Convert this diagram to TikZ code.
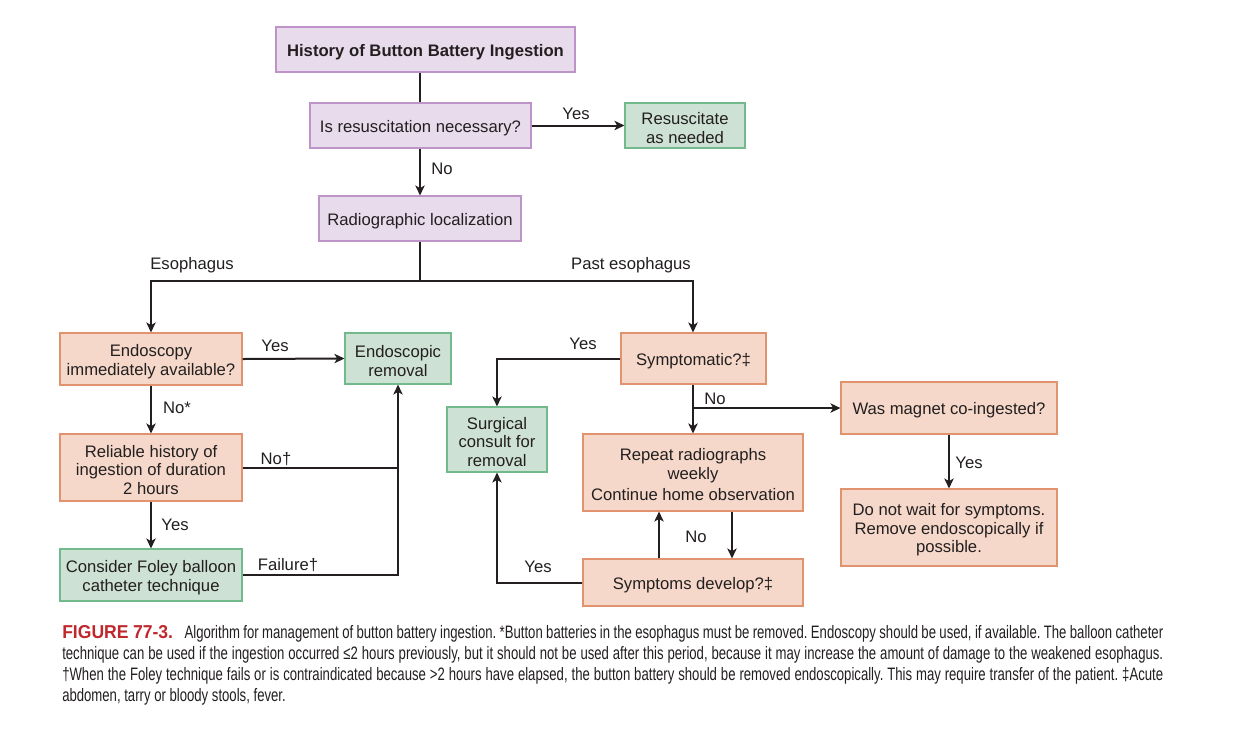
\documentclass[tikz,border=0pt]{standalone}
\usepackage{fontspec}
\setmainfont{Liberation Sans}
\newfontfamily\capfont[FakeStretch=0.73]{Liberation Sans}
\newfontfamily\figfont[FakeStretch=0.94]{Liberation Sans}
\usetikzlibrary{arrows.meta,calc}
\definecolor{ink}{HTML}{231F20}
\definecolor{pfill}{HTML}{E8DBEC}
\definecolor{pline}{HTML}{BE94C8}
\definecolor{ofill}{HTML}{F5D8C9}
\definecolor{oline}{HTML}{E0936E}
\definecolor{gfill}{HTML}{CDE1D4}
\definecolor{gline}{HTML}{72BA8C}
\definecolor{capred}{HTML}{C0272D}
\begin{document}
\begin{tikzpicture}[x=0.75pt,y=-0.75pt,
  box/.style={draw, line width=0.8pt, inner sep=0pt},
  boxtext/.style={align=center, inner sep=0pt, text=ink, yshift=-1.8pt,
    font=\fontsize{12.5}{14}\selectfont},
  txt/.style={label={[boxtext]center:{#1}}},
  pbox/.style={box, fill=pfill, draw=pline},
  obox/.style={box, fill=ofill, draw=oline},
  gbox/.style={box, fill=gfill, draw=gline},
  arr/.style={line width=1.5pt, draw=ink, -{Stealth[length=7.5pt,width=7pt,inset=2pt]}},
  ln/.style={line width=1.5pt, draw=ink},
  lbl/.style={font=\fontsize{12.5}{14}\selectfont, text=ink, inner sep=0pt, yshift=-1.2pt}]
\useasboundingbox (0,0) rectangle (1235,751);
\fill[white] (0,0) rectangle (1235,751);

% boxes
\node[pbox, minimum width=224.25pt, minimum height=33.75pt, txt={\bfseries History of Button Battery Ingestion}] (hist) at (425.5,49.5) {};
\node[pbox, minimum width=165.75pt, minimum height=33.75pt, txt={Is resuscitation necessary?}] (resq) at (420.5,125.5) {};
\node[gbox, minimum width=90pt, minimum height=33.75pt, txt={Resuscitate\\as needed}] (resc) at (685,125.5) {};
\node[pbox, minimum width=151.5pt, minimum height=33.75pt, txt={Radiographic localization}] (radio) at (420,218.5) {};
\node[obox, minimum width=136.5pt, minimum height=39pt, txt={Endoscopy\\immediately available?}] (endo) at (151,359) {};
\node[gbox, minimum width=79.5pt, minimum height=38.25pt, txt={Endoscopic\\removal}] (endorem) at (398,358.5) {};
\node[obox, minimum width=136.5pt, minimum height=50.25pt, txt={Reliable history of\\ingestion of duration\\2 hours}] (rel) at (151,467.5) {};
\node[gbox, minimum width=136.5pt, minimum height=39pt, txt={Consider Foley balloon\\catheter technique}] (foley) at (151,575) {};
\node[gbox, minimum width=75pt, minimum height=48.75pt, txt={Surgical\\consult for\\removal}] (surg) at (497,439.5) {};
\node[obox, minimum width=108.75pt, minimum height=38.25pt, txt={Symptomatic?‡}] (sympt) at (693.5,358.5) {};
\node[obox, minimum width=165pt, minimum height=57.75pt, txt={Repeat radiographs\\weekly\\[2pt]Continue home observation}] (rep) at (693,472.5) {};
\node[obox, minimum width=165pt, minimum height=35.25pt, txt={Symptoms develop?‡}] (sdev) at (693,582.5) {};
\node[obox, minimum width=162pt, minimum height=39pt, txt={Was magnet co-ingested?}] (mag) at (949,408) {};
\node[obox, minimum width=162pt, minimum height=57.75pt, txt={Do not wait for symptoms.\\Remove endoscopically if\\possible.}] (wait) at (949,527.5) {};

% connectors
\draw[ln] (radio.north |- hist.south) -- (radio.north |- resq.north);
\draw[arr] (resq.east) -- (resc.west);
\draw[arr] (radio.north |- resq.south) -- (radio.north);
\draw[ln] (radio.south) -- ++(0,39) coordinate (split);
\draw[arr] (split) -| (endo.north);
\draw[arr] (split) -| (rep.north |- sympt.north);
\draw[arr] (endo.east) -- (endorem.west);
\draw[arr] (endo.south) -- (rel.north);
\draw[ln] (rel.east) -- (rel.east -| endorem.south);
\draw[arr] (rel.south) -- (foley.north);
\draw[arr] (foley.east) -| (endorem.south);
\draw[arr] (sympt.west) -| (surg.north);
\draw[arr] (rep.north |- sympt.south) -- (rep.north);
\path (rep.north |- sympt.south) -- (rep.north) coordinate[pos=0.48] (br);
\draw[arr] (br) -- (br -| mag.west);
\draw[arr] (mag.south) -- (wait.north);
\draw[arr] ([xshift=29.25pt]rep.south) -- ([xshift=29.25pt]sdev.north);
\draw[arr] ([xshift=-25.5pt]sdev.north) -- ([xshift=-25.5pt]rep.south);
\draw[arr] (sdev.west) -| (surg.south);

% labels
\node[lbl] (l1) at (576,112) {Yes};
\node[lbl] (l2) at (442,167) {No};
\node[lbl] (l3) at (192,264) {Esophagus};
\node[lbl] (l4) at (631,264) {Past esophagus};
\node[lbl] (l5) at (275,344) {Yes};
\node[lbl] (l6) at (177,406) {No*};
\node[lbl] (l7) at (276,457) {No†};
\node[lbl] (l8) at (175,523) {Yes};
\node[lbl] (l9) at (288,563) {Failure†};
\node[lbl] (l10) at (583,342) {Yes};
\node[lbl] (l11) at (715,397) {No};
\node[lbl] (l12) at (969,461) {Yes};
\node[lbl] (l13) at (696,535) {No};
\node[lbl] (l14) at (538,565) {Yes};

% caption
\node[anchor=north west, text width=825.75pt, align=justify, inner sep=0pt, text=ink,
  font=\capfont\fontsize{13.5}{15.75}\selectfont\frenchspacing] (cap) at (62,625)
{{\figfont\fontsize{14}{15.75}\selectfont\bfseries\color{capred}FIGURE 77-3.}\hspace{0.45em} Algorithm for management of button battery ingestion. *Button batteries in the esophagus must be removed. Endoscopy should be used, if available. The balloon catheter\linebreak
technique can be used if the ingestion occurred ≤2 hours previously, but it should not be used after this period, because it may increase the amount of damage to the weakened esophagus.\linebreak
†When the Foley technique fails or is contraindicated because >2 hours have elapsed, the button battery should be removed endoscopically. This may require transfer of the patient. ‡Acute\linebreak
abdomen, tarry or bloody stools, fever.};
\end{tikzpicture}
\end{document}
